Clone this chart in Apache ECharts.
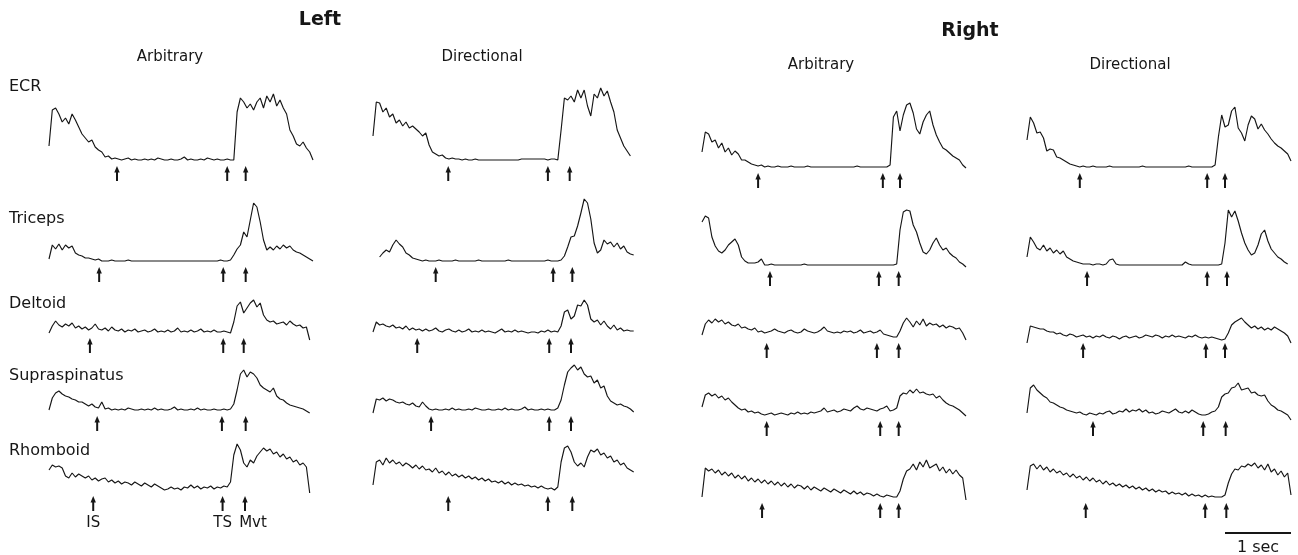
<!DOCTYPE html>
<html>
<head>
<meta charset="utf-8">
<script src="https://cdn.jsdelivr.net/npm/echarts@6/dist/echarts.min.js"></script>
<style>
  html, body { margin: 0; padding: 0; background: #fff; }
  #chart { width: 1298px; height: 555px; }
</style>
</head>
<body>
<div id="chart"></div>
<script>
// Rectified EMG envelopes of five shoulder/arm muscles, left and right arm,
// during arbitrary and directional reaction-time tasks.
// Amplitudes in arbitrary units above resting level, one sample every 50 ms.
const SAMPLE_STEP = 0.05;

const sides = ['Left', 'Right'];
const tasks = ['Arbitrary', 'Directional'];
const muscles = ['ECR', 'Triceps', 'Deltoid', 'Supraspinatus', 'Rhomboid'];
const eventNames = ['IS', 'TS', 'Mvt'];

// ---- Left arm, arbitrary task ----
const leftArbECR = [14,50,52,46,38,42,36,46,40,33,26,22,18,20,13,10,8,3,4,1,2,
  1,0,1,2,0,1,0,0,1,0,1,0,2,1,0,0,1,0,0,1,3,0,1,0,0,1,0,2,1,0,1,0,0,1,0,0,
  48,62,58,52,56,50,58,62,52,64,58,66,54,60,52,46,30,24,16,14,18,12,8,0];
const leftArbTriceps = [2,16,12,17,11,16,13,15,8,6,5,3,3,2,1,2,0,
  0,0,1,0,0,0,0,1,0,0,0,0,0,0,0,0,0,0,0,0,0,0,0,0,0,0,0,0,0,0,0,0,0,0,0,1,0,0,1,
  6,12,16,29,24,41,58,54,39,21,11,14,11,15,12,16,13,15,11,9,8,6,4,2,0];
const leftArbDeltoid = [-1,6,11,7,5,8,6,9,4,6,3,5,2,4,8,3,2,4,1,5,2,1,3,
  0,2,1,3,0,1,2,0,1,3,0,1,0,2,0,1,4,0,1,0,2,0,1,3,0,1,0,2,0,0,1,0,-1,
  10,26,30,19,24,29,32,25,29,17,12,10,11,8,9,10,7,11,8,6,7,4,5,-8];
const leftArbSupraspinatus = [0,12,17,19,16,14,13,11,10,8,8,6,4,6,3,2,8,1,2,0,1,
  0,1,0,2,1,0,0,1,0,1,0,2,0,1,0,0,1,3,0,1,0,0,1,0,2,0,1,0,0,1,0,0,1,0,1,
  6,20,36,40,33,38,36,32,25,22,20,18,22,14,11,10,7,5,4,3,2,1,-1,-3];
const leftArbRhomboid = [20,25,23,24,22,14,12,17,13,16,14,12,14,10,12,9,11,12,8,10,
  7,9,6,8,7,5,8,6,4,7,5,3,6,4,2,0,1,3,1,2,0,3,2,5,2,4,1,3,2,4,1,3,2,4,3,8,
  35,46,40,27,23,30,27,34,38,42,39,41,36,38,33,36,31,33,28,30,25,27,23,-3];

// ---- Left arm, directional task ----
const leftDirECR = [24,58,57,48,52,43,46,37,40,34,38,32,34,31,28,24,27,15,8,6,4,5,2,1,2,
  1,1,0,1,0,0,1,0,0,0,0,0,0,0,0,0,0,0,0,0,1,1,1,1,1,1,1,1,0,1,1,0,
  30,62,60,64,58,70,62,70,54,44,66,62,72,64,69,58,48,30,22,14,9,4];
const leftDirTriceps = [null,null,4,8,11,9,16,21,17,14,8,6,3,2,1,
  0,1,0,0,0,1,0,0,0,0,1,0,0,0,0,0,0,1,0,0,0,0,0,0,0,0,1,0,0,0,0,0,0,0,0,0,0,0,1,0,0,0,
  1,5,14,24,25,35,48,62,58,42,18,8,11,21,17,19,14,18,12,15,9,7,6];
const leftDirDeltoid = [0,10,7,8,6,5,7,4,5,3,6,2,4,2,3,1,3,1,2,4,1,0,2,3,1,0,2,0,1,3,
  0,1,0,2,0,1,0,-1,1,3,0,1,0,2,0,1,0,-1,0,0,-1,1,0,2,0,1,0,
  6,20,22,13,16,27,26,32,27,13,10,12,7,11,6,3,7,2,4,1,2,1,1];
const leftDirSupraspinatus = [-3,11,10,12,9,11,10,8,7,8,6,5,7,4,3,8,4,1,0,1,0,
  0,1,0,2,0,1,0,0,1,0,2,1,0,0,1,0,0,1,0,2,0,1,0,0,1,3,0,1,0,0,1,0,1,0,
  0,2,10,25,38,42,45,40,43,36,33,34,27,30,22,24,14,9,7,5,6,4,3,1,-2];
const leftDirRhomboid = [5,28,30,25,32,27,30,26,28,24,27,25,22,25,21,24,20,21,18,22,
  17,19,15,18,14,16,13,15,12,14,11,13,10,12,9,11,8,9,7,9,6,8,5,7,5,6,4,5,3,4,2,4,2,1,2,0,3,
  28,42,44,38,28,24,27,23,33,40,38,41,35,37,32,34,28,30,25,27,22,20,18];

// ---- Right arm, arbitrary task ----
const rightArbECR = [15,35,33,25,27,19,24,15,19,12,16,13,7,7,5,3,2,1,2,
  0,1,0,0,1,0,0,0,1,0,0,0,0,1,0,0,0,0,0,0,0,0,0,0,0,0,0,0,1,0,0,0,0,0,0,0,0,0,2,
  50,56,36,52,62,64,54,38,33,45,52,56,42,32,25,19,17,14,11,9,7,2,-1];
const rightArbTriceps = [43,49,47,28,19,14,12,15,20,23,26,20,8,4,2,2,2,3,6,
  0,0,1,0,0,0,0,0,0,0,0,0,1,0,0,0,0,0,0,0,0,0,0,0,0,0,0,0,0,0,0,0,0,0,0,0,0,0,0,0,1,
  35,53,55,54,40,33,22,13,11,15,22,27,20,15,17,12,9,7,3,1,-2];
const rightArbDeltoid = [2,13,17,14,18,15,17,13,15,12,11,13,9,10,8,7,9,5,6,4,
  5,6,8,6,5,4,6,7,5,4,5,8,6,5,4,5,7,10,6,5,4,5,4,6,5,6,4,5,7,4,5,6,4,5,7,3,2,1,0,0,
  6,14,19,15,10,16,12,18,11,14,12,13,10,12,9,11,10,8,9,4,-3];
const rightArbSupraspinatus = [8,20,22,19,21,17,19,15,17,13,10,7,5,6,3,4,2,3,1,0,
  1,2,0,1,2,1,0,2,1,3,1,2,1,3,2,3,4,7,3,4,5,3,4,6,5,4,7,9,6,5,7,6,5,4,6,7,9,4,5,7,
  19,22,21,25,22,26,22,23,21,20,21,17,19,15,12,10,9,7,5,2,-1];
const rightArbRhomboid = [0,29,26,28,24,27,22,25,21,24,19,22,18,21,16,19,15,18,14,17,
  13,16,12,15,11,14,10,13,9,12,11,8,11,7,10,8,6,9,7,5,8,6,4,7,5,3,6,3,5,2,4,3,1,3,1,0,2,1,0,0,
  6,18,26,28,33,27,35,30,37,29,31,33,26,30,24,28,23,27,22,19,-3];

// ---- Right arm, directional task ----
const rightDirECR = [27,50,44,34,35,29,16,18,17,10,9,7,5,3,2,1,0,
  1,0,0,1,0,0,0,0,1,0,0,0,0,0,0,0,0,0,1,0,0,0,0,0,0,0,0,0,0,0,0,0,1,0,0,0,0,0,0,0,2,
  30,52,40,42,56,60,39,34,26,42,51,48,38,43,37,33,28,24,21,19,16,13,6];
const rightDirTriceps = [8,28,23,17,15,20,14,17,12,15,11,14,8,6,4,3,2,1,1,
  1,0,1,1,0,1,5,6,1,0,0,0,0,0,0,0,0,0,0,0,0,0,0,0,0,0,0,0,0,3,1,0,0,0,0,0,0,0,0,0,1,
  22,55,48,54,44,32,22,15,10,12,20,31,35,24,16,12,8,6,3,1];
const rightDirDeltoid = [-6,11,10,9,8,8,6,5,5,3,4,2,1,3,2,0,1,2,0,1,-1,1,0,2,0,-1,1,0,-2,0,
  1,-1,0,1,-1,0,2,1,0,2,1,-1,1,0,2,0,1,0,-1,1,0,2,0,-1,0,-1,0,-1,-2,-3,-2,
  4,12,15,17,19,15,12,9,11,8,10,7,9,7,10,8,6,4,1,-6];
const rightDirSupraspinatus = [2,27,30,25,22,19,17,13,12,10,8,7,5,4,3,2,3,1,0,2,
  1,0,2,1,3,4,1,2,4,3,6,3,5,4,6,3,5,2,3,1,2,4,3,2,4,6,3,2,4,2,5,3,1,0,0,1,3,4,
  8,18,21,22,27,28,32,25,26,27,22,23,20,19,20,14,10,8,5,4,2,0,-5];
const rightDirRhomboid = [7,31,33,28,32,27,30,25,28,24,26,22,24,20,23,19,21,17,20,16,
  19,15,17,13,16,12,14,11,13,10,12,9,11,8,10,7,9,6,8,5,7,5,6,3,5,3,4,2,4,1,3,1,2,0,2,0,1,0,0,0,
  2,14,23,28,27,31,30,33,31,34,29,32,27,33,25,28,22,26,20,24,2];

// Event times in seconds from trace start: instruction signal, trigger signal, movement onset
const leftArbEvents = [[1.03,2.70,2.98],[0.76,2.64,2.98],[0.62,2.64,2.95],[0.73,2.62,2.98],[0.67,2.63,2.97]];
const leftDirEvents = [[1.14,2.65,2.98],[0.95,2.73,3.02],[0.67,2.67,3.00],[0.88,2.67,3.00],[1.14,2.65,3.02]];
const rightArbEvents = [[0.85,2.74,3.00],[1.03,2.68,2.98],[0.98,2.65,2.98],[0.98,2.70,2.98],[0.91,2.70,2.98]];
const rightDirEvents = [[0.80,2.73,3.00],[0.91,2.73,3.03],[0.85,2.71,3.00],[1.00,2.67,3.01],[0.89,2.70,3.02]];

// Time calibration bar (s)
const scaleBarStart = 3;
const scaleBarLength = 1;
const scaleBarLabel = '1 sec';

const traces = {
  Left: {
    Arbitrary: [leftArbECR, leftArbTriceps, leftArbDeltoid, leftArbSupraspinatus, leftArbRhomboid],
    Directional: [leftDirECR, leftDirTriceps, leftDirDeltoid, leftDirSupraspinatus, leftDirRhomboid]
  },
  Right: {
    Arbitrary: [rightArbECR, rightArbTriceps, rightArbDeltoid, rightArbSupraspinatus, rightArbRhomboid],
    Directional: [rightDirECR, rightDirTriceps, rightDirDeltoid, rightDirSupraspinatus, rightDirRhomboid]
  }
};
const events = {
  Left: { Arbitrary: leftArbEvents, Directional: leftDirEvents },
  Right: { Arbitrary: rightArbEvents, Directional: rightDirEvents }
};

// ---- layout ----
const INK = '#161616';
const FONT = '"DejaVu Sans", "Liberation Sans", sans-serif';
const PX_PER_SEC = 66;
const SPAN = 4;             // seconds shown per trace
const Y_MAX = 80, Y_MIN = -45;  // 1 unit = 1 px
const ARROW_TIP = -6, ARROW_TAIL = -21, NAME_Y = -33, BAR_Y = -36, BAR_LABEL_Y = -51;
const colLeft = { Left: { Arbitrary: 49, Directional: 373 }, Right: { Arbitrary: 702, Directional: 1027 } };
const rowBase = { Left: [160, 261, 332, 410, 490], Right: [167, 265, 337, 415, 497] };

const option = {
  animation: false,
  backgroundColor: '#ffffff',
  grid: [], xAxis: [], yAxis: [], series: [],
  graphic: []
};

function textEl(text, x, y, size, weight, align) {
  return {
    type: 'text', x: x, y: y, silent: true,
    style: {
      text: text, fill: INK, font: (weight || 'normal') + ' ' + size + 'px ' + FONT,
      align: align || 'center', verticalAlign: 'middle',
      textAlign: align || 'center', textVerticalAlign: 'middle'
    }
  };
}

let gi = 0;
sides.forEach(side => {
  tasks.forEach(task => {
    muscles.forEach((muscle, r) => {
      const base = rowBase[side][r];
      option.grid.push({
        left: colLeft[side][task], top: base - Y_MAX,
        width: PX_PER_SEC * SPAN, height: Y_MAX - Y_MIN,
        containLabel: false
      });
      option.xAxis.push({ type: 'value', gridIndex: gi, min: 0, max: SPAN, show: false });
      option.yAxis.push({ type: 'value', gridIndex: gi, min: Y_MIN, max: Y_MAX, show: false });

      const vals = traces[side][task][r];
      option.series.push({
        name: side + ' ' + task + ' ' + muscle,
        type: 'line', xAxisIndex: gi, yAxisIndex: gi,
        data: vals.map((v, i) => [i * SAMPLE_STEP, v]).filter(d => d[1] !== null),
        showSymbol: false, clip: false, silent: true,
        lineStyle: { color: INK, width: 1.15 }
      });

      const showNames = side === 'Left' && task === 'Arbitrary' && r === muscles.length - 1;
      option.series.push({
        type: 'custom', xAxisIndex: gi, yAxisIndex: gi, clip: false, silent: true,
        data: events[side][task][r].map((t, k) => [t, k]),
        renderItem: (params, api) => {
          const t = api.value(0), k = api.value(1);
          const tip = api.coord([t, ARROW_TIP]);
          const tail = api.coord([t, ARROW_TAIL]);
          const children = [
            { type: 'line', shape: { x1: tip[0], y1: tip[1] + 4, x2: tail[0], y2: tail[1] },
              style: { stroke: INK, lineWidth: 2 } },
            { type: 'polygon', shape: { points: [[tip[0], tip[1]], [tip[0] - 2.7, tip[1] + 6.5], [tip[0] + 2.7, tip[1] + 6.5]] },
              style: { fill: INK } }
          ];
          if (showNames) {
            const p = api.coord([t, NAME_Y]);
            children.push({
              type: 'text', x: p[0] + (k === 2 ? 8 : 0), y: p[1],
              style: { text: eventNames[k], fill: INK, font: '15px ' + FONT,
                       align: 'center', verticalAlign: 'middle', textAlign: 'center', textVerticalAlign: 'middle' }
            });
          }
          return { type: 'group', children: children };
        }
      });

      if (side === 'Right' && task === 'Directional' && r === muscles.length - 1) {
        option.series.push({
          type: 'custom', xAxisIndex: gi, yAxisIndex: gi, clip: false, silent: true,
          data: [[scaleBarStart, scaleBarStart + scaleBarLength]],
          renderItem: (params, api) => {
            const a = api.coord([api.value(0), BAR_Y]);
            const b = api.coord([api.value(1), BAR_Y]);
            const c = api.coord([(api.value(0) + api.value(1)) / 2, BAR_LABEL_Y]);
            return { type: 'group', children: [
              { type: 'line', shape: { x1: a[0], y1: a[1], x2: b[0], y2: b[1] }, style: { stroke: INK, lineWidth: 2 } },
              { type: 'text', x: c[0], y: c[1],
                style: { text: scaleBarLabel, fill: INK, font: '16px ' + FONT,
                         align: 'center', verticalAlign: 'middle', textAlign: 'center', textVerticalAlign: 'middle' } }
            ] };
          }
        });
      }
      gi++;
    });
  });
});

// headings and row labels
option.graphic.push(textEl('Left', 320, 20, 19, 'bold'));
option.graphic.push(textEl('Right', 970, 31, 19, 'bold'));
option.graphic.push(textEl(tasks[0], 170, 57, 15));
option.graphic.push(textEl(tasks[1], 482, 57, 15));
option.graphic.push(textEl(tasks[0], 821, 65, 15));
option.graphic.push(textEl(tasks[1], 1130, 65, 15));
const rowLabelY = [87, 219, 304, 376, 451];
muscles.forEach((m, r) => option.graphic.push(textEl(m, 9, rowLabelY[r], 16, 'normal', 'left')));

const chart = echarts.init(document.getElementById('chart'), null, { renderer: 'canvas' });
chart.setOption(option);
</script>
</body>
</html>
